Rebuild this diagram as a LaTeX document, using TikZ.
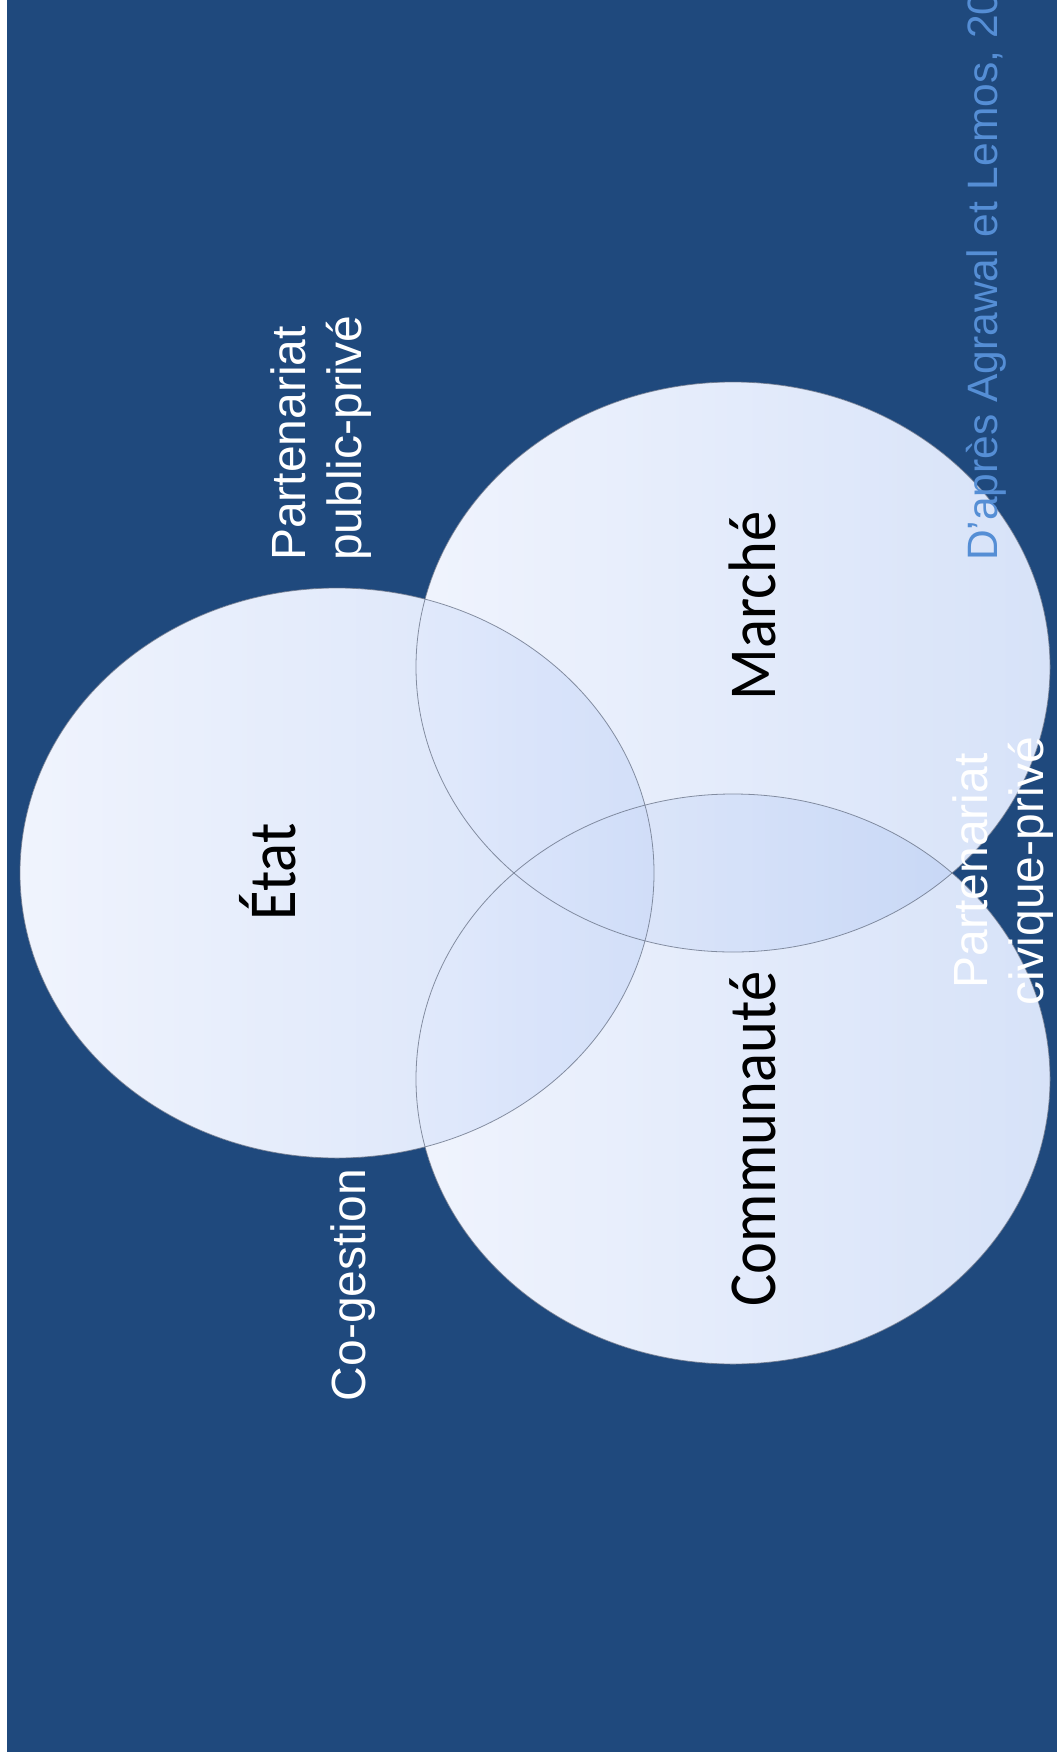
\documentclass[tikz,border=0pt]{standalone}
\usepackage{fontspec}
\setmainfont{Liberation Sans}
\newfontfamily\carlito{Carlito}
\definecolor{bgblue}{RGB}{31,73,125}
\definecolor{citeblue}{RGB}{85,142,213}
\definecolor{ellL}{RGB}{226,234,253}
\definecolor{ellR}{RGB}{176,199,243}
\definecolor{ellline}{RGB}{100,110,130}
\begin{document}
\begin{tikzpicture}[x=1pt,y=-1pt,
  circtext/.style={font=\carlito\fontsize{60.5}{72}\selectfont, text=black, rotate=90, yscale=1.11, anchor=base, inner sep=0pt},
  lbl/.style={font=\fontsize{48}{56}\selectfont, text=white, rotate=90, inner sep=0pt},
  cite/.style={font=\fontsize{42.5}{50}\selectfont, text=citeblue, rotate=90, inner sep=0pt, anchor=base west},
  ellfill/.style={left color=ellL, right color=ellR, fill opacity=0.5},
  ellrim/.style={draw=ellline, draw opacity=0.75, line width=0.8pt}]
\useasboundingbox (0,0) rectangle (1057,1760);
\fill[white] (0,0) rectangle (1057,1760);
\fill[bgblue] (7,0) rectangle (1057,1752);
\coordinate (cE) at (337,873);
\coordinate (cM) at (733,667);
\coordinate (cC) at (733,1079);
% opaque white base under the translucent discs
\fill[white] (cE) ellipse [x radius=317, y radius=285]
             (cM) ellipse [x radius=317, y radius=285]
             (cC) ellipse [x radius=317, y radius=285];
\shade[ellfill] (cE) ellipse [x radius=317, y radius=285];
\shade[ellfill] (cM) ellipse [x radius=317, y radius=285];
\shade[ellfill] (cC) ellipse [x radius=317, y radius=285];
\draw[ellrim] (cE) ellipse [x radius=317, y radius=285];
\draw[ellrim] (cM) ellipse [x radius=317, y radius=285];
\draw[ellrim] (cC) ellipse [x radius=317, y radius=285];
% circle labels
\node[circtext] (etat) at (295,872) {État};
\node[circtext] (marche) at (775,606) {Marché};
\node[circtext] (commu) at (775,1139) {Communauté};
% overlap labels
\node[lbl, align=left, anchor=west] (ppp) at (321,561) {Partenariat\\public-privé};
\node[lbl, anchor=base] (cog) at (365,1285) {Co-gestion};
\node[lbl, align=center] (pcp) at (1003,871) {Partenariat\\civique-privé};
% source
\node[cite] (src) at (997,561) {D’après Agrawal et Lemos, 20};
\end{tikzpicture}
\end{document}
